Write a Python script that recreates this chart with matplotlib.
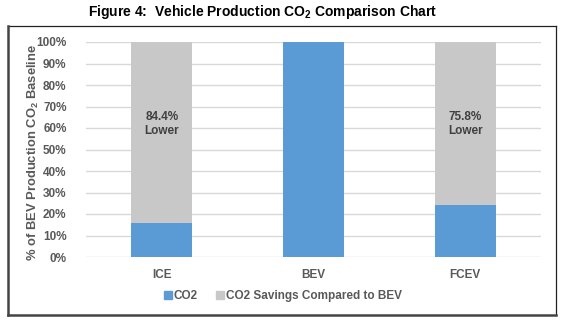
import matplotlib
matplotlib.use("Agg")
import matplotlib.pyplot as plt
from matplotlib.lines import Line2D

plt.rcParams['font.family'] = ['Liberation Sans', 'DejaVu Sans']
plt.rcParams['mathtext.fontset'] = 'custom'
plt.rcParams['mathtext.rm'] = 'Liberation Sans:bold'
plt.rcParams['mathtext.bf'] = 'Liberation Sans:bold'

categories = ["ICE", "BEV", "FCEV"]
co2 = [15.6, 100.0, 24.2]
savings = [84.4, 0.0, 75.8]
savings_labels = ["84.4%\nLower", "", "75.8%\nLower"]
yticks = [0, 10, 20, 30, 40, 50, 60, 70, 80, 90, 100]

blue = "#5b9bd5"
grey = "#c8c8c8"
tick_color = "#595959"

W, H = 562, 322
fig = plt.figure(figsize=(W / 100, H / 100), dpi=100)

ax = fig.add_axes([86 / W, 1 - 257 / H, (541 - 86) / W, (257 - 42) / H])
x = list(range(len(categories)))
ax.bar(x, co2, width=0.40, color=blue, label="CO2", zorder=3)
ax.bar(x, savings, width=0.40, bottom=co2, color=grey,
       label="CO2 Savings Compared to BEV", zorder=3)

for xi, lab in zip(x, savings_labels):
    if lab:
        ax.text(xi, 62, lab, ha="center", va="center", fontsize=8.5,
                fontweight="bold", color="#404040", zorder=4, linespacing=1.2)

ax.set_xlim(-0.5, 2.5)
ax.set_ylim(0, 100)
ax.set_yticks(yticks)
ax.set_yticklabels([f"{v}%" for v in yticks])
ax.set_xticks(x)
ax.set_xticklabels(categories)
ax.tick_params(axis="both", length=0, labelsize=8.5, colors=tick_color)
ax.tick_params(axis="y", pad=14)
ax.tick_params(axis="x", pad=9)
for lbl in ax.get_xticklabels() + ax.get_yticklabels():
    lbl.set_fontweight("bold")
ax.grid(axis="y", color="#d9d9d9", linewidth=1, zorder=0)
for s in ax.spines.values():
    s.set_visible(False)

fig.text(33 / W, 1 - 152 / H, r"% of BEV Production CO$_{\mathrm{2}}$ Baseline",
         rotation=90, ha="center", va="center", fontsize=9.4,
         fontweight="bold", color=tick_color)

fig.text(263 / W, 1 - 12 / H, r"Figure 4:  Vehicle Production CO$_{\mathrm{2}}$ Comparison Chart",
         ha="center", va="center", fontsize=10, fontweight="bold", color="black")

handles = [Line2D([], [], marker="s", linestyle="none", color=blue, markersize=6),
           Line2D([], [], marker="s", linestyle="none", color=grey, markersize=6)]
leg = fig.legend(handles, ["CO2", "CO2 Savings Compared to BEV"], loc="center",
                 bbox_to_anchor=(283 / W, 1 - 296 / H), ncol=2, frameon=False,
                 handlelength=0.6, handletextpad=0.2, columnspacing=1.6,
                 prop={"size": 8.5, "weight": "bold"})
for t in leg.get_texts():
    t.set_color(tick_color)

# outer border
def fx(px):
    return px / W
def fy(py):
    return 1 - py / H
fig.add_artist(Line2D([fx(8), fx(556)], [fy(26), fy(26)], color="#222222", lw=0.9))
fig.add_artist(Line2D([fx(556), fx(556)], [fy(26), fy(315)], color="#222222", lw=0.9))
fig.add_artist(Line2D([fx(8), fx(8)], [fy(26), fy(315)], color="#444444", lw=1.8))
fig.add_artist(Line2D([fx(8), fx(556)], [fy(315), fy(315)], color="#444444", lw=1.8))

fig.savefig("out.png", dpi=100)
